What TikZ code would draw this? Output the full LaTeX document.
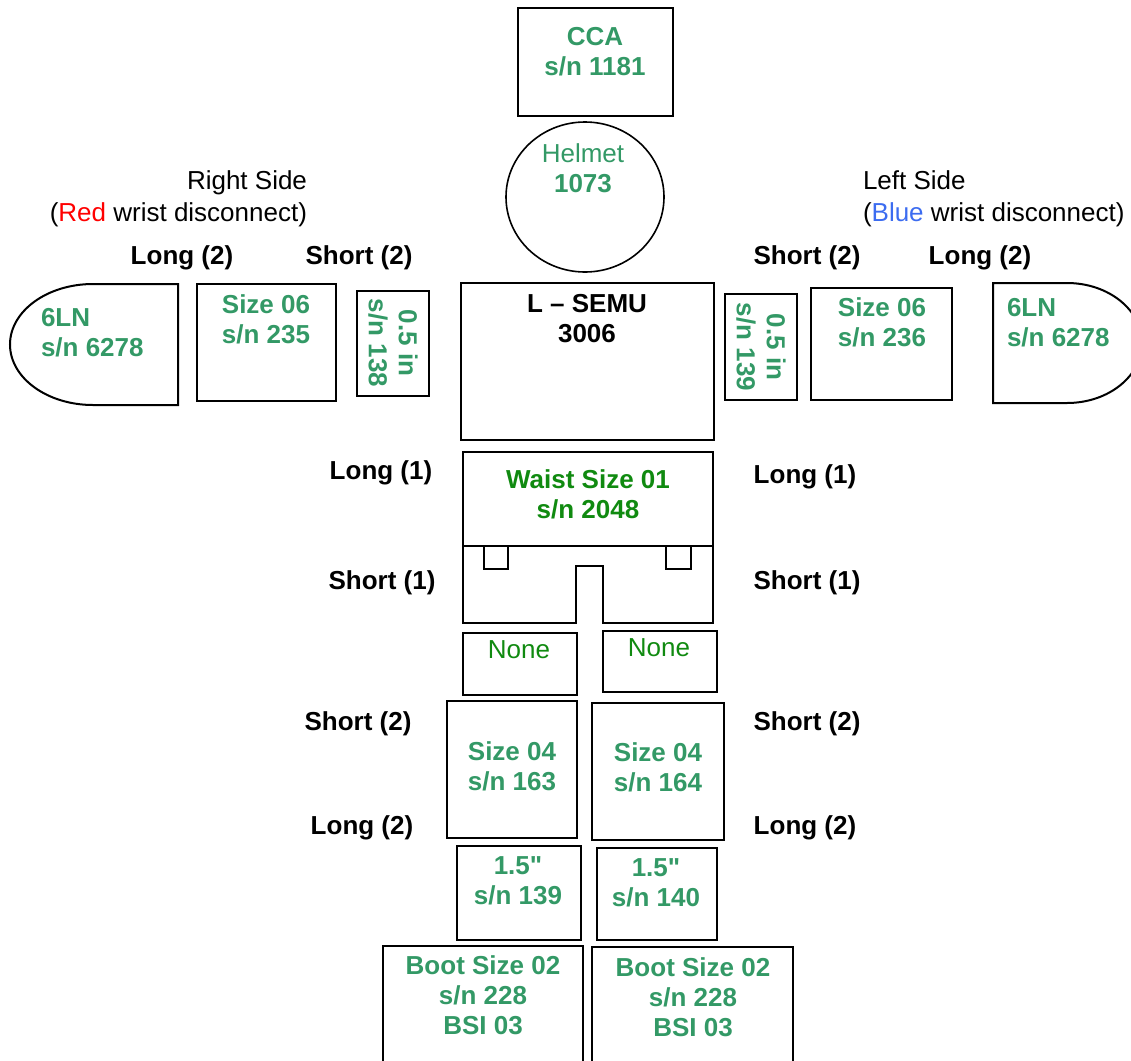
\documentclass[tikz,border=0pt]{standalone}
\usepackage{fontspec}
\setmainfont{Liberation Sans}[Ligatures=TeXOff]
\usetikzlibrary{fit,shapes.geometric}
\definecolor{sgreen}{HTML}{339966}
\definecolor{dgreen}{HTML}{108A10}
\definecolor{rred}{HTML}{FF0000}
\definecolor{bblue}{HTML}{3C6CF0}
\newcommand\fsz{\fontsize{13}{15}\selectfont}
\begin{document}
\begin{tikzpicture}[x=0.5pt,y=-0.5pt, line width=1pt,
  box/.style={draw, inner sep=0pt, line width=1pt},
  sgt/.style={text=sgreen, font=\fsz\bfseries, align=center, inner sep=0pt},
  dgt/.style={text=dgreen, font=\fsz\bfseries, align=center, inner sep=0pt},
  blk/.style={text=black, font=\fsz\bfseries, align=center, inner sep=0pt},
  plain/.style={text=black, font=\fsz, inner sep=0pt}]
\useasboundingbox (0,0) rectangle (1131,1061);
\clip (0,0) rectangle (1131,1061);

% head
\node[box, fit={(518,8) (673,116)}] (cca) {};
\node[sgt] (ccat) at (595,52) {CCA\\s/n 1181};
\node[draw, ellipse, line width=0.8pt, minimum width=79pt, minimum height=75pt, inner sep=0pt] (helmet) at (585,197) {};
\node[sgt] (helmett) at (583,168) {{\mdseries Helmet}\\1073};

% torso
\node[box, fit={(461,283) (714,440)}] (semu) {};
\node[blk] (semut) at (587,319) {L – SEMU\\3006};

% right side (viewer's left)
\node[plain, align=right, anchor=east] (rside) at (308,199) {Right Side\\[1pt](\textcolor{rred}{Red} wrist disconnect)};
\node[blk] (rlong2) at (182,258) {Long (2)};
\node[blk] (rshort2) at (359,258) {Short (2)};
\draw (178,284) -- (93,284) arc[start angle=90, end angle=270, x radius=41.5pt, y radius=30.25pt] -- (178,405) -- cycle;
\node[sgt, align=left, anchor=west] (rglove) at (40,333) {6LN\\s/n 6278};
\node[box, fit={(197,284) (336,401)}] (rupper) {};
\node[sgt] (ruppert) at (266,319) {Size 06\\s/n 235};
\node[box, fit={(357,291) (429,396)}] (rring) {};
\node[sgt, rotate=-90] (rringt) at (393,343) {0.5 in\\s/n 138};

% left side (viewer's right)
\node[plain, align=left, anchor=west] (lside) at (862,199) {Left Side\\[1pt](\textcolor{bblue}{Blue} wrist disconnect)};
\node[blk] (lshort2) at (807,258) {Short (2)};
\node[blk] (llong2) at (980,258) {Long (2)};
\node[box, fit={(725,294) (797,400)}] (lring) {};
\node[sgt, rotate=-90] (lringt) at (761,347) {0.5 in\\s/n 139};
\node[box, fit={(811,288) (952,400)}] (lupper) {};
\node[sgt] (luppert) at (882,322) {Size 06\\s/n 236};
\draw (993,283) -- (1067,283) arc[start angle=90, end angle=-90, x radius=37.5pt, y radius=30pt] -- (993,403) -- cycle;
\node[sgt, align=left, anchor=west] (lglove) at (1006,323) {6LN\\s/n 6278};

% waist
\draw (463,452) -- (713,452) -- (713,623) -- (603,623) -- (603,566) -- (576,566) -- (576,623) -- (463,623) -- cycle;
\draw (463,546) -- (713,546);
\draw (484,546) -- (484,569) -- (508,569) -- (508,546);
\draw (666,546) -- (666,569) -- (691,569) -- (691,546);
\node[dgt] (waistt) at (588,494) {Waist Size 01\\s/n 2048};
\node[blk] (wl1) at (381,473) {Long (1)};
\node[blk] (ws1) at (382,583) {Short (1)};
\node[blk] (wr1) at (805,477) {Long (1)};
\node[blk] (wrs1) at (807,583) {Short (1)};

% thigh spacers
\node[box, fit={(463,633) (577,695)}] (nonel) {};
\node[dgt, font=\fsz\mdseries] (nonelt) at (519,650) {None};
\node[box, fit={(603,631) (717,692)}] (noner) {};
\node[dgt, font=\fsz\mdseries] (nonert) at (659,648) {None};

% legs
\node[blk] (ls2) at (358,724) {Short (2)};
\node[blk] (ll2) at (362,828) {Long (2)};
\node[blk] (rs2) at (807,724) {Short (2)};
\node[blk] (rl2) at (805,828) {Long (2)};
\node[box, fit={(447,701) (577,838)}] (legl) {};
\node[sgt] (leglt) at (512,766) {Size 04\\s/n 163};
\node[box, fit={(592,703) (724,840)}] (legr) {};
\node[sgt] (legrt) at (658,767) {Size 04\\s/n 164};
\node[box, fit={(457,846) (581,940)}] (lowl) {};
\node[sgt] (lowlt) at (518,881) {1.5"\\s/n 139};
\node[box, fit={(597,848) (717,940)}] (lowr) {};
\node[sgt] (lowrt) at (656,883) {1.5"\\s/n 140};

% boots
\node[box, fit={(383,946) (583,1090)}] (bootl) {};
\node[sgt] (bootlt) at (483,995) {Boot Size 02\\s/n 228\\BSI 03};
\node[box, fit={(592,947) (793,1090)}] (bootr) {};
\node[sgt] (bootrt) at (693,997) {Boot Size 02\\s/n 228\\BSI 03};
\end{tikzpicture}
\end{document}
